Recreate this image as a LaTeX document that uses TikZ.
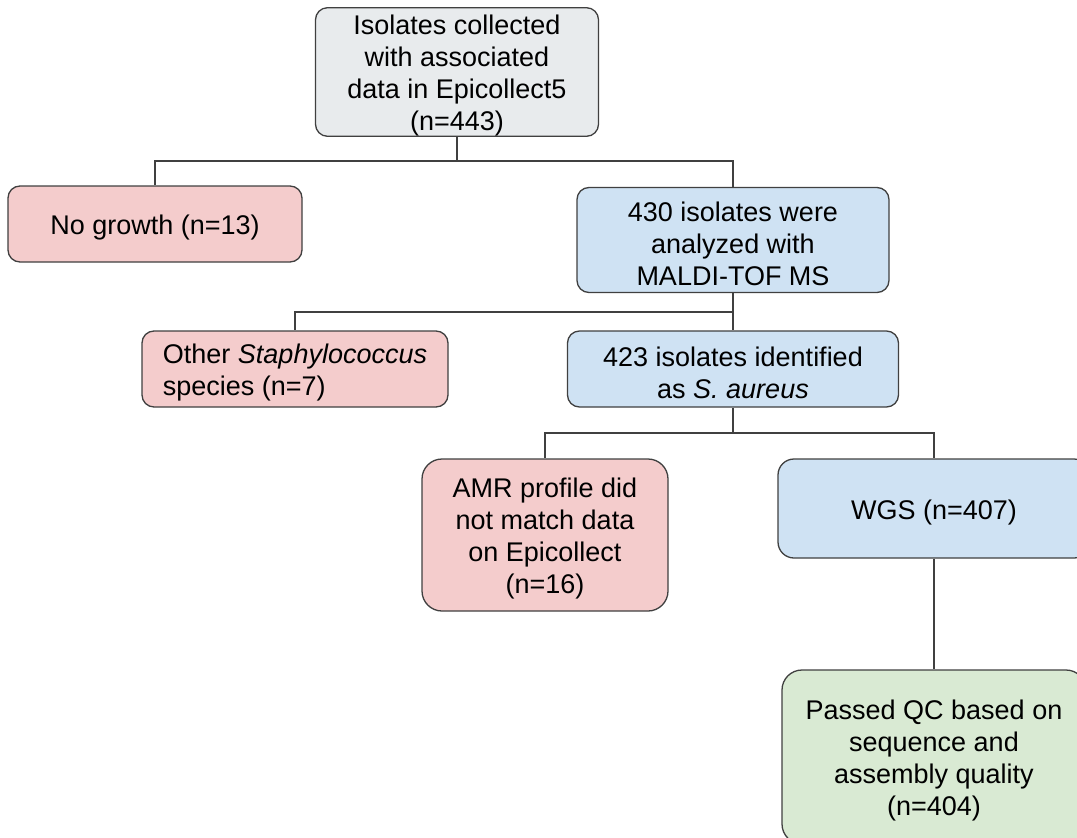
\documentclass[tikz,border=0pt]{standalone}
\usepackage{fontspec}
\setmainfont{Liberation Sans}
\usepackage{xcolor}
\definecolor{boxgray}{HTML}{E8EBED}
\definecolor{boxred}{HTML}{F4CCCC}
\definecolor{boxblue}{HTML}{CFE2F3}
\definecolor{boxgreen}{HTML}{D9EAD3}
\definecolor{edgegray}{HTML}{404040}

\begin{document}
\begin{tikzpicture}[x=1pt,y=-1pt,
		box/.style={draw=edgegray, line width=1.3pt, rounded corners=12pt, inner sep=0pt, align=center, font=\fontsize{27}{32}\selectfont},
		link/.style={draw=edgegray, line width=1.4pt}]
		\useasboundingbox (0,0) rectangle (1077,838);
%		\draw[step=50pt, thin, gray!30] (0,0) grid (1077,838);
		\node[box, fill=boxgray, minimum width=283pt, minimum height=124pt] (isol) at (457,72) {\rule{0pt}{27pt}Isolates collected\\with associated\\data in Epicollect5\\(n=443)};
		\node[box, fill=boxred, minimum width=294pt, minimum height=76pt] (nogrowth) at (155,224) {\rule{0pt}{27pt}No growth (n=13)};
		\node[box, fill=boxblue, minimum width=312pt, minimum height=105pt] (maldi) at (733,240) {\rule{0pt}{27pt}430 isolates were\\analyzed with\\MALDI-TOF MS};
		\node[box, fill=boxred, align=left, minimum width=306pt, minimum height=76pt] (otherstaph) at (295,369) {\rule{0pt}{27pt}Other \textit{Staphylococcus}\\species (n=7)};
		\node[box, fill=boxblue, minimum width=331pt, minimum height=76pt] (saureus) at (733,369) {\rule{0pt}{27pt}423 isolates identified\\as \textit{S. aureus}};
		\node[box, fill=boxred, rounded corners=20pt, minimum width=246pt, minimum height=152pt] (amr) at (545,535) {\rule{0pt}{27pt}AMR profile did\\not match data\\on Epicollect\\(n=16)};
		\node[box, fill=boxblue, rounded corners=16pt, minimum width=312pt, minimum height=99pt] (wgs) at (934,508.5) {\rule{0pt}{27pt}WGS (n=407)};
		\node[box, fill=boxgreen, rounded corners=20pt, minimum width=304pt, minimum height=174pt] (qc) at (934,757) {\rule{0pt}{27pt}Passed QC based on\\sequence and\\assembly quality\\(n=404)};
		\coordinate (split1) at (457,161);
		\coordinate (split2) at (733,312);
		\coordinate (split3) at (733,433);
		\draw[link] (isol.south) -- (split1) -| (nogrowth.north);
		\draw[link] (split1) -| (maldi.north);
		\draw[link] (maldi.south) -- (split2) -| (otherstaph.north);
		\draw[link] (split2) -- (saureus.north);
		\draw[link] (saureus.south) -- (split3) -| (amr.north);
		\draw[link] (split3) -| (wgs.north);
		\draw[link] (wgs.south) -- (qc.north);
	\end{tikzpicture}
\end{document}
